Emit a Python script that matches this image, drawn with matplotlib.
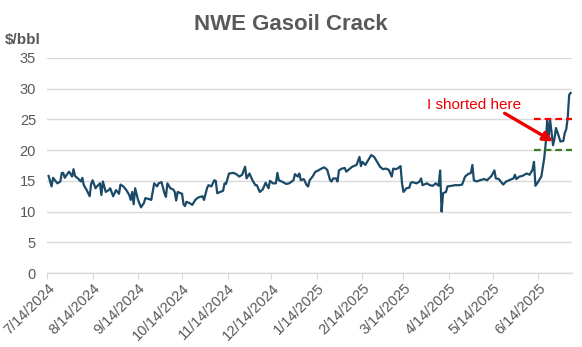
import matplotlib.pyplot as plt
import matplotlib.dates as mdates
import pandas as pd

# NWE gasoil crack, $/bbl
dates = [
    "2024-07-15", "2024-07-17", "2024-07-18", "2024-07-21", "2024-07-23", "2024-07-24",
    "2024-07-25", "2024-07-26", "2024-07-28", "2024-07-29", "2024-07-31", "2024-08-01",
    "2024-08-02", "2024-08-04", "2024-08-06", "2024-08-07", "2024-08-08", "2024-08-10",
    "2024-08-12", "2024-08-13", "2024-08-14", "2024-08-16", "2024-08-17", "2024-08-19",
    "2024-08-20", "2024-08-21", "2024-08-23", "2024-08-25", "2024-08-26", "2024-08-28",
    "2024-08-30", "2024-09-01", "2024-09-02", "2024-09-04", "2024-09-06", "2024-09-08",
    "2024-09-09", "2024-09-10", "2024-09-11", "2024-09-12", "2024-09-14", "2024-09-16",
    "2024-09-18", "2024-09-19", "2024-09-22", "2024-09-23", "2024-09-25", "2024-09-27",
    "2024-09-28", "2024-09-30", "2024-10-02", "2024-10-03", "2024-10-04", "2024-10-06",
    "2024-10-08", "2024-10-09", "2024-10-10", "2024-10-11", "2024-10-12", "2024-10-14",
    "2024-10-15", "2024-10-16", "2024-10-17", "2024-10-19", "2024-10-21", "2024-10-23",
    "2024-10-25", "2024-10-28", "2024-10-29", "2024-10-31", "2024-11-01", "2024-11-03",
    "2024-11-05", "2024-11-06", "2024-11-07", "2024-11-09", "2024-11-11", "2024-11-12",
    "2024-11-13", "2024-11-15", "2024-11-18", "2024-11-20", "2024-11-22", "2024-11-24",
    "2024-11-26", "2024-11-27", "2024-11-29", "2024-12-01", "2024-12-03", "2024-12-04",
    "2024-12-06", "2024-12-08", "2024-12-10", "2024-12-12", "2024-12-13", "2024-12-15",
    "2024-12-17", "2024-12-18", "2024-12-19", "2024-12-21", "2024-12-24", "2024-12-26",
    "2024-12-29", "2024-12-30", "2025-01-01", "2025-01-02", "2025-01-03", "2025-01-05",
    "2025-01-07", "2025-01-08", "2025-01-09", "2025-01-11", "2025-01-13", "2025-01-15",
    "2025-01-17", "2025-01-19", "2025-01-21", "2025-01-23", "2025-01-24", "2025-01-25",
    "2025-01-27", "2025-01-28", "2025-01-29", "2025-01-31", "2025-02-02", "2025-02-03",
    "2025-02-05", "2025-02-07", "2025-02-10", "2025-02-12", "2025-02-13", "2025-02-14",
    "2025-02-16", "2025-02-18", "2025-02-20", "2025-02-22", "2025-02-23", "2025-02-26",
    "2025-02-28", "2025-03-02", "2025-03-04", "2025-03-06", "2025-03-07", "2025-03-09",
    "2025-03-11", "2025-03-12", "2025-03-13", "2025-03-14", "2025-03-16", "2025-03-18",
    "2025-03-19", "2025-03-20", "2025-03-23", "2025-03-25", "2025-03-26", "2025-03-27",
    "2025-03-30", "2025-04-01", "2025-04-03", "2025-04-05", "2025-04-07", "2025-04-08",
    "2025-04-09", "2025-04-10", "2025-04-12", "2025-04-13", "2025-04-16", "2025-04-18",
    "2025-04-21", "2025-04-23", "2025-04-25", "2025-04-27", "2025-04-29", "2025-04-30",
    "2025-05-01", "2025-05-03", "2025-05-05", "2025-05-08", "2025-05-10", "2025-05-13",
    "2025-05-15", "2025-05-16", "2025-05-18", "2025-05-21", "2025-05-23", "2025-05-25",
    "2025-05-28", "2025-05-29", "2025-05-30", "2025-06-01", "2025-06-03", "2025-06-06",
    "2025-06-08", "2025-06-10", "2025-06-11", "2025-06-12", "2025-06-14", "2025-06-16",
    "2025-06-18", "2025-06-19", "2025-06-20", "2025-06-21", "2025-06-22", "2025-06-23",
    "2025-06-24", "2025-06-25", "2025-06-26", "2025-06-28", "2025-06-29", "2025-07-01",
    "2025-07-02", "2025-07-03", "2025-07-04", "2025-07-05", "2025-07-06",
]
crack = [
    15.8, 14.1, 15.5, 14.6, 14.9, 16.3,
    16.3, 15.5, 16.2, 16.5, 15.7, 16.9,
    15.8, 15.4, 14.9, 15.5, 14.3, 13.5,
    12.5, 14.5, 15.1, 13.8, 14.1, 14.6,
    12.7, 14.9, 13.2, 13.5, 13.8, 12.5,
    13.5, 12.9, 14.4, 14.1, 13.5, 12.7,
    11.9, 13.2, 11.2, 13.8, 11.9, 10.7,
    11.4, 12.2, 12.0, 11.9, 14.6, 14.1,
    14.6, 14.8, 13.0, 12.4, 14.6, 13.8,
    13.6, 13.2, 11.8, 13.2, 13.1, 12.9,
    11.2, 10.9, 11.6, 11.4, 11.1, 11.9,
    12.3, 12.5, 11.9, 13.8, 14.3, 14.1,
    15.1, 15.0, 13.0, 13.2, 13.4, 14.6,
    14.5, 16.2, 16.3, 16.1, 15.7, 16.0,
    17.3, 15.4, 16.2, 15.1, 14.3, 14.3,
    13.2, 13.6, 14.7, 13.8, 15.0, 14.6,
    14.6, 16.3, 15.1, 14.9, 14.5, 14.6,
    15.1, 16.1, 15.7, 16.2, 15.1, 15.3,
    14.3, 14.1, 15.1, 15.7, 16.5, 16.7,
    17.0, 17.2, 16.8, 15.1, 14.9, 15.4,
    15.4, 14.9, 16.7, 17.0, 17.1, 16.5,
    16.9, 17.3, 17.6, 18.9, 17.4, 18.1,
    17.6, 18.4, 19.2, 18.9, 18.5, 17.3,
    16.9, 17.0, 16.8, 15.7, 17.0, 16.9,
    17.2, 17.4, 14.6, 13.2, 13.8, 13.9,
    14.7, 14.8, 14.6, 14.9, 15.4, 14.3,
    14.6, 14.3, 14.2, 14.6, 14.2, 16.7,
    10.0, 13.0, 13.2, 14.1, 14.2, 14.3,
    14.3, 14.4, 15.7, 16.1, 16.3, 17.6,
    15.1, 14.9, 15.1, 15.3, 15.1, 15.8,
    16.7, 15.4, 15.3, 14.4, 14.9, 15.1,
    15.4, 16.0, 15.3, 15.7, 15.8, 16.2,
    16.0, 16.8, 18.1, 14.2, 14.9, 15.7,
    18.7, 21.1, 24.9, 22.2, 24.9, 22.8,
    20.8, 21.9, 23.6, 22.2, 21.4, 21.5,
    22.8, 23.4, 25.2, 29.0, 29.3,
]

tick_dates = ["2024-07-14", "2024-08-14", "2024-09-14", "2024-10-14", "2024-11-14",
              "2024-12-14", "2025-01-14", "2025-02-14", "2025-03-14", "2025-04-14",
              "2025-05-14", "2025-06-14"]
x_start, x_end = "2024-07-14", "2025-07-07"

# short entry levels and the annotation
level_start = "2025-06-11"
stop_level = 25
target_level = 20
arrow_from = ("2025-05-22", 26.0)
arrow_to = ("2025-06-24", 21.4)
note_at = ("2025-03-30", 27.4)

grey = "#595959"
plt.rcParams["font.family"] = ["Liberation Sans", "DejaVu Sans"]

fig = plt.figure(figsize=(5.82, 3.47), dpi=100)
ax = fig.add_axes([0.081, 0.213, 0.902, 0.62])

x = pd.to_datetime(dates)
ax.plot(x, crack, color="#1A4A68", lw=1.6, solid_joinstyle="round", zorder=3)

lv = pd.to_datetime([level_start, x_end])
ax.plot(lv, [stop_level, stop_level], color="#FF0000", lw=1.6,
        linestyle=(0, (3, 1.8)), zorder=4)
ax.plot(lv, [target_level, target_level], color="#3A7A24", lw=1.6,
        linestyle=(0, (3, 1.8)), zorder=4)

ax.annotate("", xy=(pd.Timestamp(arrow_to[0]), arrow_to[1]),
            xytext=(pd.Timestamp(arrow_from[0]), arrow_from[1]),
            arrowprops=dict(arrowstyle="-|>", color="#EE0000", lw=2.4,
                            mutation_scale=14, shrinkA=0, shrinkB=0), zorder=5)
ax.text(pd.Timestamp(note_at[0]), note_at[1], "I shorted here", color="#EE0000",
        fontsize=11, ha="left", va="center")

ax.set_ylim(0, 35)
ax.set_yticks(range(0, 36, 5))
ax.set_xlim(pd.Timestamp(x_start), pd.Timestamp(x_end))
ax.set_xticks(pd.to_datetime(tick_dates))
ax.set_xticklabels([f"{d.month}/{d.day}/{d.year}" for d in pd.to_datetime(tick_dates)],
                   rotation=45, ha="right", rotation_mode="anchor")

ax.grid(axis="y", color="#D9D9D9", lw=1)
ax.set_axisbelow(True)
for side in ["top", "right", "left"]:
    ax.spines[side].set_visible(False)
ax.spines["bottom"].set_color("#D9D9D9")
ax.spines["bottom"].set_linewidth(1)
ax.tick_params(axis="y", length=0, labelsize=10.5, labelcolor=grey, pad=8)
ax.tick_params(axis="x", length=4, color="#D9D9D9", labelsize=10.5,
               labelcolor=grey, pad=2)

fig.text(0.5, 0.93, "NWE Gasoil Crack", ha="center", va="center",
         fontsize=16, fontweight="bold", color=grey)
fig.text(0.009, 0.885, "$/bbl", ha="left", va="center",
         fontsize=11, fontweight="bold", color=grey)

fig.savefig("out.png", dpi=100)
